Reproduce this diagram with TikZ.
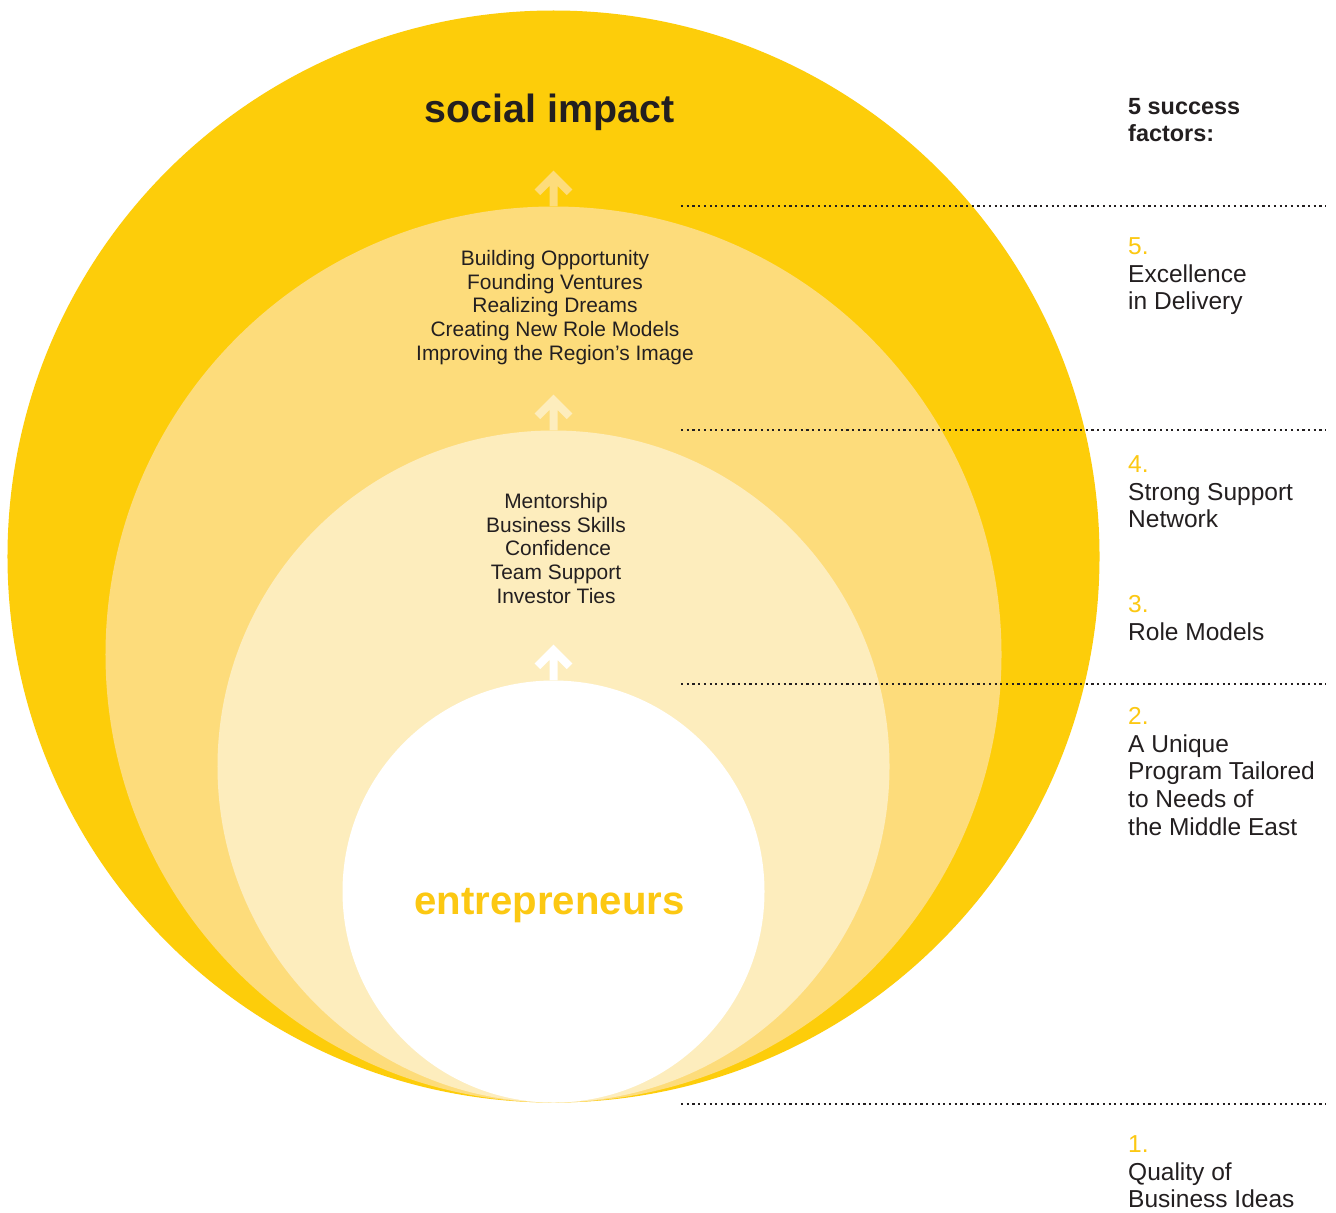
\documentclass[tikz,border=0pt]{standalone}
\usepackage{fontspec}
\setmainfont{Liberation Sans}
\definecolor{cOuter}{HTML}{FDCD0A}
\definecolor{cMid}{HTML}{FDDC7B}
\definecolor{cIn}{HTML}{FDEDBD}
\definecolor{cGold}{HTML}{FCC812}
\definecolor{cDark}{HTML}{231F20}
\begin{document}
\begin{tikzpicture}[x=1bp,y=-1bp,
  disc/.style={circle, draw=none, inner sep=0pt},
  uparrow/.style={line width=8bp, line join=miter, line cap=butt},
  titletext/.style={font=\fontsize{39.5}{44}\selectfont\bfseries, text=cDark, inner sep=0pt},
  goldtitle/.style={font=\fontsize{40.3}{44}\selectfont\bfseries, text=cGold, inner sep=0pt},
  listtext/.style={font=\fontsize{21}{24}\selectfont, text=cDark, align=center, inner sep=0pt, anchor=north},
  factor/.style={font=\fontsize{24.6}{28}\selectfont, text=cDark, align=left, inner sep=0pt, anchor=north west},
  header/.style={font=\fontsize{23.5}{27}\selectfont\bfseries, text=cDark, align=left, inner sep=0pt, anchor=north west},
  dotline/.style={draw=cDark, line width=2.2bp, dash pattern=on 2.2bp off 3.5bp}
]
\useasboundingbox[fill=white] (0,0) rectangle (1336,1212);

% nested circles, all tangent at the bottom
\node[disc, fill=cOuter, minimum size=1092bp] (outer) at (553.5,556.5) {};
\node[disc, fill=cMid, minimum size=896bp] (middle) at (553.5,654.5) {};
\node[disc, fill=cIn, minimum size=672bp] (inner) at (553.5,766.5) {};
\node[disc, fill=white, minimum size=422bp] (core) at (553.5,891.5) {};

% arrows
\draw[uparrow, cMid] (middle.north) -- ++(0,-30) coordinate (t1) ++(-16,16) -- (t1) -- ++(16,16);
\draw[uparrow, cIn] (inner.north) -- ++(0,-30) coordinate (t2) ++(-16,16) -- (t2) -- ++(16,16);
\draw[uparrow, white] (core.north) -- ++(0,-30) coordinate (t3) ++(-16,16) -- (t3) -- ++(16,16);

% texts in circles
\node[titletext, anchor=base] (social) at (549.5,122) {social impact};
\node[listtext] (impactlist) at (555,248.2) {\strut Building Opportunity\\Founding Ventures\\Realizing Dreams\\Creating New Role Models\\Improving the Region’s Image};
\node[listtext] (supportlist) at (556,491.2) {\strut Mentorship\\Business Skills\\\hspace*{4bp}Confidence\\Team Support\\Investor Ties};
\node[goldtitle, anchor=base] (entre) at (549.5,914) {entrepreneurs};

% dotted separators
\coordinate (d1a) at (681,206); \coordinate (d1b) at (1326,206);
\coordinate (d2a) at (681,430); \coordinate (d2b) at (1326,430);
\coordinate (d3a) at (681,684); \coordinate (d3b) at (1326,684);
\coordinate (d4a) at (681,1104); \coordinate (d4b) at (1326,1104);
\draw[dotline] (d1a) -- (d1b);
\draw[dotline] (d2a) -- (d2b);
\draw[dotline] (d3a) -- (d3b);
\draw[dotline] (d4a) -- (d4b);

% right column
\node[header] (hdr) at (1128,95.1) {\strut 5 success\\factors:};
\node[factor] (f5) at (1128,234.4) {\strut\textcolor{cGold}{5.}\\Excellence\\in Delivery};
\node[factor] (f4) at (1128,452.4) {\strut\textcolor{cGold}{4.}\\Strong Support\\Network};
\node[factor] (f3) at (1128,592.4) {\strut\textcolor{cGold}{3.}\\Role Models};
\node[factor] (f2) at (1128,704.4) {\strut\textcolor{cGold}{2.}\\A Unique\\Program Tailored\\to Needs of\\the Middle East};
\node[factor] (f1) at (1128,1132.4) {\strut\textcolor{cGold}{1.}\\Quality of\\Business Ideas};
\end{tikzpicture}
\end{document}
